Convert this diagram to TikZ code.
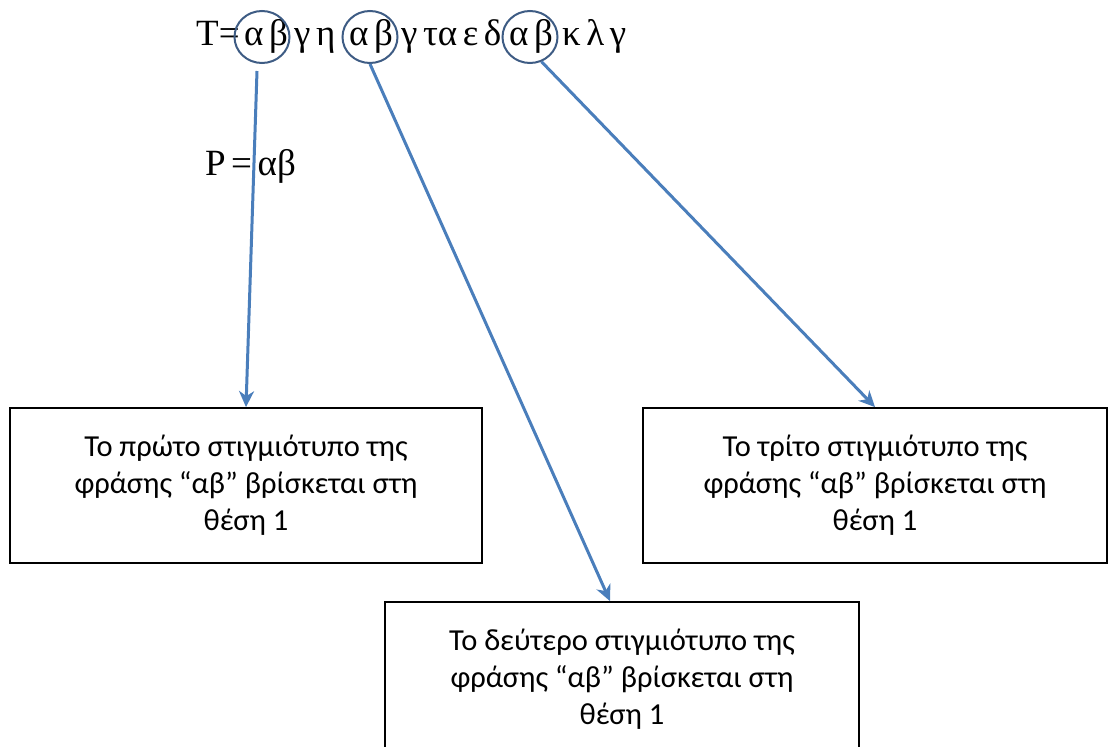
\documentclass[tikz,border=0pt]{standalone}
\usepackage{fontspec}
\setmainfont{Liberation Serif}
\newfontfamily\boxfont{Carlito}
\usetikzlibrary{arrows.meta,shapes.geometric}
\definecolor{arrowblue}{HTML}{4A7EBB}
\definecolor{ringblue}{HTML}{3E5C84}
\newcommand\tightspace{\spaceskip=5.5pt plus 1pt\relax}
\begin{document}
\begin{tikzpicture}[x=1pt, y=-1pt,
    every node/.style={font=\fontsize{37}{40}\selectfont\tightspace},
    word/.style={anchor=base west, inner sep=0pt},
    ring/.style={draw=ringblue, line width=2pt, ellipse, inner sep=0pt,
      minimum width=55pt, minimum height=52pt},
    result/.style={draw, line width=1.8pt, align=center, inner sep=0pt,
      minimum height=155pt, font=\boxfont\fontsize{30.5}{37}\selectfont},
    pointer/.style={arrowblue, line width=3pt,
      -{Stealth[length=16pt,width=15pt,inset=5pt]}}]
  \useasboundingbox (0,0) rectangle (1112,747);
  \clip (0,0) rectangle (1112,747);
  % the text T, piece by piece
  \node[word] (t0) at (196,45) {T=};
  \node[word] (w1) at (244,45) {α β};
  \node[word] (t1) at (294,45) {γ η};
  \node[word] (w2) at (349,45) {α β};
  \node[word] (t2) at (401,45) {γ τα ε δ};
  \node[word] (w3) at (509,45) {α β};
  \node[word] (t3) at (562,45) {κ λ γ};
  \node[word] (pat) at (205,175) {P = αβ};
  % the three matches
  \node[ring] (c1) at ([shift={(18,-8)}]w1.base west) {};
  \node[ring] (c2) at ([shift={(21,-8)}]w2.base west) {};
  \node[ring] (c3) at ([shift={(21,-8)}]w3.base west) {};
  % result boxes
  \node[result, minimum width=472pt] (b1) at (246,485.5)
    {Το πρώτο στιγμιότυπο της\\φράσης “αβ” βρίσκεται στη\\θέση 1};
  \node[result, minimum width=464pt] (b3) at (875,485.5)
    {Το τρίτο στιγμιότυπο της\\φράσης “αβ” βρίσκεται στη\\θέση 1};
  \node[result, minimum width=474pt] (b2) at (622,679.5)
    {Το δεύτερο στιγμιότυπο της\\φράσης “αβ” βρίσκεται στη\\θέση 1};
  % arrows
  \draw[pointer] ([xshift=-5pt,yshift=-7pt]c1.south) -- (b1.north);
  \draw[pointer] (c2.south) -- ([xshift=-12pt]b2.north);
  \draw[pointer] (c3.-65) -- (b3.north);
\end{tikzpicture}
\end{document}
